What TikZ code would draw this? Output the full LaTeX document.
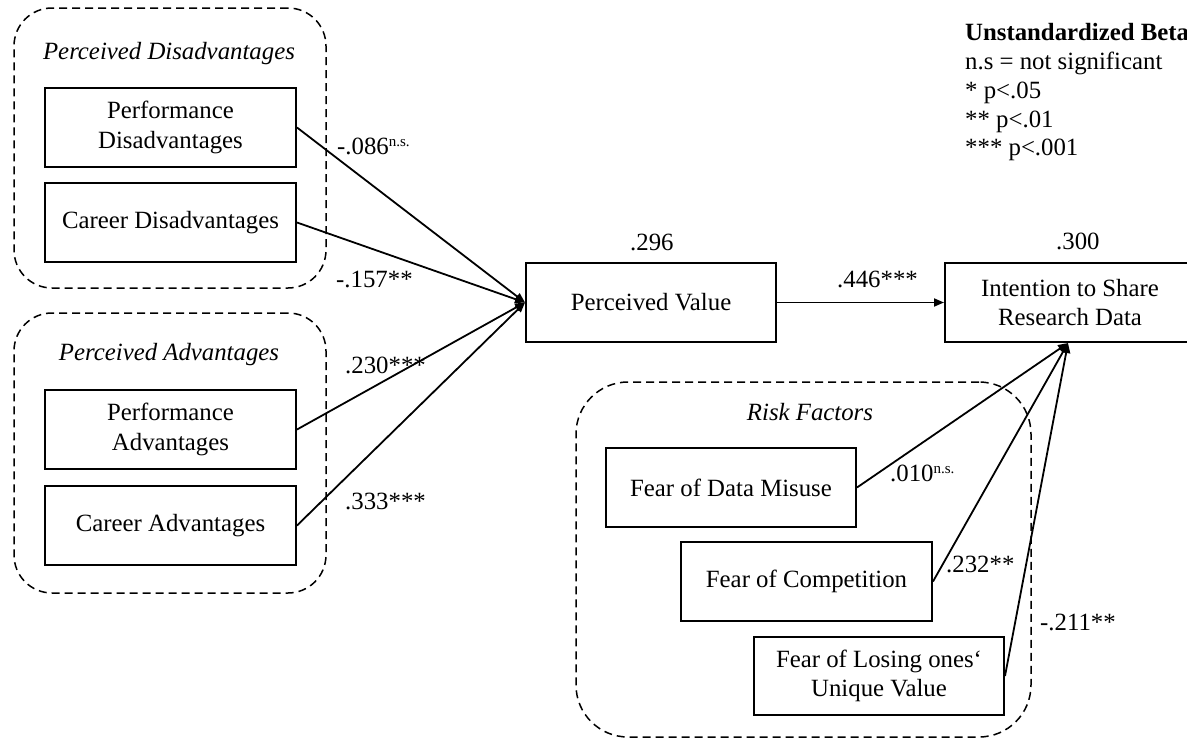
\documentclass[tikz,border=0pt]{standalone}
\usepackage{fontspec}
\setmainfont{Liberation Serif}
\usetikzlibrary{arrows.meta}
\newcommand{\ns}{\raisebox{7.5pt}{\fontsize{15}{15}\selectfont n.s.}}
\tikzset{
  txt/.style={font=\fontsize{24.8}{29.5}\selectfont},
  box/.style={txt, draw, line width=2pt, fill=white, align=center,
    minimum width=250pt, minimum height=79pt, inner sep=0pt},
  grp/.style={draw, line width=1.5pt, dash pattern=on 8pt off 5pt,
    rounded corners=38pt, inner sep=0pt},
  grptitle/.style={txt, font=\fontsize{24.8}{29.5}\selectfont\itshape, anchor=base, inner sep=0pt},
  coef/.style={txt, anchor=base west, inner sep=0pt},
  legend/.style={txt, anchor=base west, inner sep=0pt},
  conn/.style={line width=1.8pt, -{Triangle[length=10pt,width=8pt]}},
}
\begin{document}
\begin{tikzpicture}[x=1pt, y=-1pt]
\useasboundingbox (0,0) rectangle (1187,739);
\clip (0,0) rectangle (1187,739);

% dashed groupings
\node[grp, minimum width=312pt, minimum height=280pt] (gdis) at (170,148) {};
\node[grp, minimum width=312pt, minimum height=280pt] (gadv) at (170,453) {};
\node[grp, rounded corners=52pt, minimum width=455pt, minimum height=355pt] (grisk) at (803.5,559.5) {};

\node[grptitle] (tdis) at (169,59) {Perceived Disadvantages};
\node[grptitle] (tadv) at (169,360) {Perceived Advantages};
\node[grptitle] (trisk) at (810,420) {Risk Factors};

% constructs
\node[box, minimum width=251pt] (pd) at (170.5,127.5) {Performance\\Disadvantages};
\node[box, minimum width=251pt] (cd) at (170.5,222.5) {Career Disadvantages};
\node[box, minimum width=251pt] (pa) at (170.5,429.5) {Performance\\Advantages};
\node[box, minimum width=251pt] (ca) at (170.5,525.5) {Career Advantages};
\node[box] (pv) at (651,302.5) {Perceived Value};
\node[box] (int) at (1070,302.5) {Intention to Share\\Research Data};
\node[box] (fdm) at (731,487.5) {Fear of Data Misuse};
\node[box, minimum width=251pt] (fc) at (806.5,581.5) {Fear of Competition};
\node[box, minimum height=78pt] (fl) at (879,676) {Fear of Losing ones‘\\Unique Value};

% paths
\draw[conn] (pd.east) -- (pv.west);
\draw[conn] (cd.east) -- (pv.west);
\draw[conn] (pa.east) -- (pv.west);
\draw[conn] (ca.east) -- (pv.west);
\draw[conn] (pv.east) -- (int.west);
\draw[conn] (fdm.east) -- ([xshift=-2pt]int.south);
\draw[conn] (fc.east) -- ([xshift=-2pt]int.south);
\draw[conn] (fl.east) -- ([xshift=-2pt]int.south);

% explained variance
\node[coef] (r2pv) at (630,250) {.296};
\node[coef] (r2int) at (1056,249) {.300};

% path coefficients
\node[coef] (bpv) at (837,287) {.446***};
\node[coef] (bpd) at (337,154) {-.086\ns};
\node[coef] (bcd) at (336,287) {-.157**};
\node[coef] (bpa) at (345,373) {.230***};
\node[coef] (bca) at (345,509) {.333***};
\node[coef] (bfdm) at (890,481) {.010\ns};
\node[coef] (bfc) at (946,572) {.232**};
\node[coef] (bfl) at (1040,630) {-.211**};

% key
\node[legend, font=\fontsize{24.8}{29.5}\selectfont\bfseries] (k0) at (965,40) {Unstandardized Beta};
\node[legend] (k1) at (965,69) {n.s = not significant};
\node[legend] (k2) at (965,98) {* p<.05};
\node[legend] (k3) at (965,127) {** p<.01};
\node[legend] (k4) at (965,155) {*** p<.001};
\end{tikzpicture}
\end{document}
